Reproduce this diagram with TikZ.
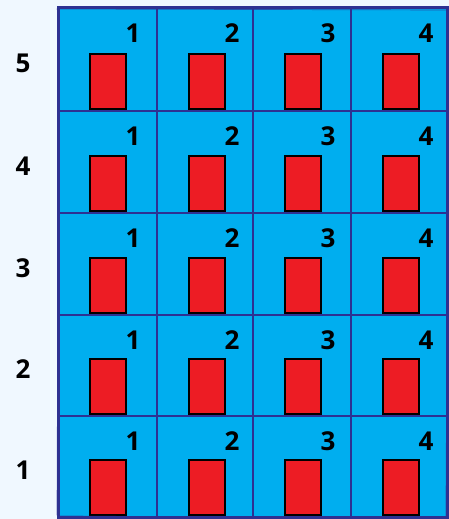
\documentclass[tikz,border=0pt]{standalone}
\usepackage{fontspec}
\setmainfont{Open Sans}
\definecolor{bgc}{HTML}{F0F8FF}
\definecolor{cellc}{HTML}{00AEEF}
\definecolor{doorc}{HTML}{ED1C24}
\definecolor{linec}{HTML}{2E3192}
\tikzset{
  cellbox/.style={fill=cellc, draw=none, inner sep=0pt},
  gridline/.style={draw=linec, line width=1.8pt},
  doorbox/.style={fill=doorc, draw=black, line width=2.4pt, inner sep=0pt, minimum width=36pt, minimum height=55pt},
  numlabel/.style={font=\fontsize{26}{28}\selectfont\bfseries, inner sep=0pt, text=black},
  rowlabel/.style={font=\fontsize{26}{28}\selectfont\bfseries, inner sep=0pt, text=black},
  sketch/.style={draw=linec, line width=0.7pt, opacity=0.7}
}
\begin{document}
\begin{tikzpicture}[x=1pt,y=-1pt]
\useasboundingbox (0,0) rectangle (449,519);
\fill[bgc] (0,0) rectangle (449,519);
\def\colL{{58,157,253,351,447}}
\def\rowT{{8,111,213,315,416,517}}
% cells
\foreach \r [evaluate=\r as \rt using {\rowT[5-\r]}, evaluate=\r as \rb using {\rowT[6-\r]}] in {5,4,3,2,1} {
  \foreach \c [evaluate=\c as \cl using {\colL[\c-1]}, evaluate=\c as \cr using {\colL[\c]}] in {1,2,3,4} {
    \node[cellbox, minimum width={\cr-\cl}, minimum height={\rb-\rt}, anchor=north west] (cell-\r-\c) at (\cl,\rt) {};
  }
}
% grid lines
\foreach \r in {5,4,3,2,1} {
  \foreach \c in {1,2,3,4} {
    \draw[gridline] (cell-\r-\c.north west) rectangle (cell-\r-\c.south east);
  }
}
% doors and labels
\foreach \r [evaluate=\r as \rt using {\rowT[5-\r]}, evaluate=\r as \rb using {\rowT[6-\r]}] in {5,4,3,2,1} {
  \foreach \c [evaluate=\c as \cl using {\colL[\c-1]}] in {1,2,3,4} {
    \node[doorbox, anchor=south west] (door-\r-\c) at (\cl+30.5,\rb-1) {};
    \node[numlabel] (num-\r-\c) at (\cl+75,\rt+25) {\c};
  }
  \node[rowlabel] (row-\r) at (23,{(\rt+\rb)/2+4}) {\r};
}
% sketchy outer border
\draw[linec, line width=3pt] (cell-5-1.north west) rectangle (cell-1-4.south east);
\draw[sketch] ([shift={(-1.5,1)}]cell-5-1.north west) -- ([shift={(2,2)}]cell-5-4.north east);
\draw[sketch] ([shift={(1,-1.5)}]cell-5-1.north west) -- ([shift={(-1,-2)}]cell-1-1.south west);
\draw[sketch] ([shift={(1.5,0)}]cell-5-4.north east) -- ([shift={(-1.5,1)}]cell-1-4.south east);
\draw[sketch] ([shift={(0,-1.5)}]cell-1-1.south west) -- ([shift={(2,1.5)}]cell-1-4.south east);
\end{tikzpicture}
\end{document}
